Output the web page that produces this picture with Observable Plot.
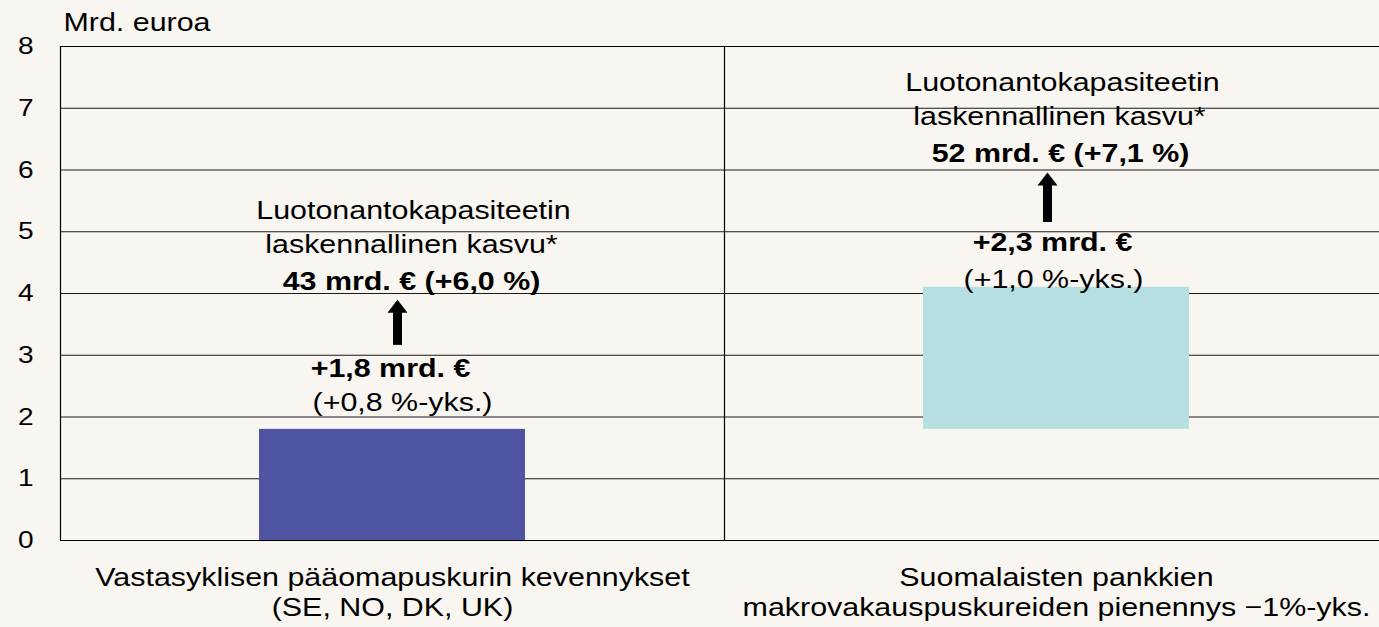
<!DOCTYPE html>
<html><head><meta charset="utf-8">
<script src="https://cdn.jsdelivr.net/npm/d3@7"></script>
<script src="https://cdn.jsdelivr.net/npm/@observablehq/plot@0.6"></script>
<style>
html,body{margin:0;padding:0;background:#f9f5f0;overflow:hidden}
</style></head><body><div id="chart"></div>
<script>
// ---- data ----
const categories = [
  "Vastasyklisen pääomapuskurin kevennykset\n(SE, NO, DK, UK)",
  "Suomalaisten pankkien\nmakrovakauspuskureiden pienennys \u22121%-yks."
];
const barStart = [0, 1.8];
const barIncrease = [1.8, 2.3];
const barColors = ["#4f55a3", "#b6dfe1"];
const yTicks = [0, 1, 2, 3, 4, 5, 6, 7, 8];
const yUnit = "Mrd. euroa";
const capacityLine1 = ["Luotonantokapasiteetin", "Luotonantokapasiteetin"];
const capacityLine2 = ["laskennallinen kasvu*", "laskennallinen kasvu*"];
const capacityTotal = ["43 mrd. € (+6,0 %)", "52 mrd. € (+7,1 %)"];
const increaseText = ["+1,8 mrd. €", "+2,3 mrd. €"];
const increasePct = ["(+0,8 %-yks.)", "(+1,0 %-yks.)"];

// ---- annotation layout (values in y units, offsets in px) ----
const yCap1 = [5.34, 7.42], yCap2 = [4.79, 6.87], yTotal = [4.19, 6.27];
const yInc = [2.79, 4.82], yPct = [2.23, 4.23];
const arrowFrom = [3.16, 5.15], arrowTo = [3.69, 5.75];
const dxCap1 = [21, 6], dxCap2 = [19, 3], dxTotal = [19, 4], dxInc = [-2, -4], dxPct = [10, -3], dxArrow = [5, -9];

const bars = categories.map((c, i) => ({cat: c, start: barStart[i], end: barStart[i] + barIncrease[i]}));
const notes = [];
categories.forEach((c, i) => {
  notes.push({cat: c, y: yCap1[i], text: capacityLine1[i], bold: false, dx: dxCap1[i]});
  notes.push({cat: c, y: yCap2[i], text: capacityLine2[i], bold: false, dx: dxCap2[i]});
  notes.push({cat: c, y: yTotal[i], text: capacityTotal[i], bold: true, dx: dxTotal[i]});
  notes.push({cat: c, y: yInc[i], text: increaseText[i], bold: true, dx: dxInc[i]});
  notes.push({cat: c, y: yPct[i], text: increasePct[i], bold: false, dx: dxPct[i]});
});
const arrows = categories.map((c, i) => ({cat: c, from: arrowFrom[i], to: arrowTo[i], dx: dxArrow[i]}));

const xRange = [60, 1388];
const halfStep = (xRange[1] - xRange[0]) / categories.length / 2;
const arrowHead = {
  draw(ctx, size) {
    const r = Math.sqrt(size / Math.PI);
    ctx.moveTo(0, -1.3 * r);
    ctx.lineTo(r, 0);
    ctx.lineTo(-r, 0);
    ctx.closePath();
  }
};

const noteMarks = notes.map(n => Plot.text([n], {
  x: "cat", y: "y", text: "text", dx: n.dx, fontSize: 26,
  fontWeight: n.bold ? "bold" : "normal", lineAnchor: "middle", fill: "#000"
}));
const arrowMarks = arrows.flatMap(a => [
  Plot.ruleX([a], {x: "cat", y1: "from", y2: "to", dx: a.dx, stroke: "#000", strokeWidth: 9}),
  Plot.dot([a], {x: "cat", y: "to", dx: a.dx, symbol: arrowHead, r: 10, fill: "#000", stroke: "none"})
]);

const chart = Plot.plot({
  width: 1379, height: 627,
  marginLeft: 60, marginRight: 0, marginTop: 46, marginBottom: 87,
  style: {background: "#f9f5f0", fontFamily: "'Liberation Sans', Arial, sans-serif", color: "#000"},
  x: {domain: categories, range: xRange, paddingInner: 0.6, paddingOuter: 0.3, label: null},
  y: {domain: [0, 8], label: null},
  color: {domain: categories, range: barColors},
  marks: [
    Plot.ruleY(yTicks.slice(1, -1), {stroke: "#1a1a1a", strokeWidth: 1}),
    Plot.barY(bars, {x: "cat", y1: "start", y2: "end", fill: "cat", inset: 0}),
    Plot.ruleY([0, 8], {stroke: "#000", strokeWidth: 1.2}),
    Plot.ruleX(categories, {dx: -halfStep, stroke: "#000", strokeWidth: 1.2}),
    Plot.axisY({ticks: yTicks, tickSize: 0, tickPadding: 27, fontSize: 24, tickFormat: d => String(d), label: null}),
    Plot.axisX({tickSize: 0, tickPadding: 24, fontSize: 26, lineHeight: 1.15, label: null}),
    Plot.text([yUnit], {frameAnchor: "top-left", dx: 3, dy: -24, fontSize: 26, textAnchor: "start", lineAnchor: "middle", fill: "#000"}),
    ...noteMarks,
    ...arrowMarks
  ]
});

// The reference typography is horizontally stretched; reproduce that.
const SX = 1.17;
chart.querySelectorAll("text").forEach(t => {
  const xa = t.getAttribute("x");
  let x = 0;
  if (xa !== null && /^-?[\d.]+$/.test(xa.trim())) { x = +xa; t.removeAttribute("x"); }
  const tr = t.getAttribute("transform") || "";
  t.setAttribute("transform", `${tr} translate(${x},0) scale(${SX},1)`);
});

document.getElementById("chart").appendChild(chart);
</script>
</body></html>
